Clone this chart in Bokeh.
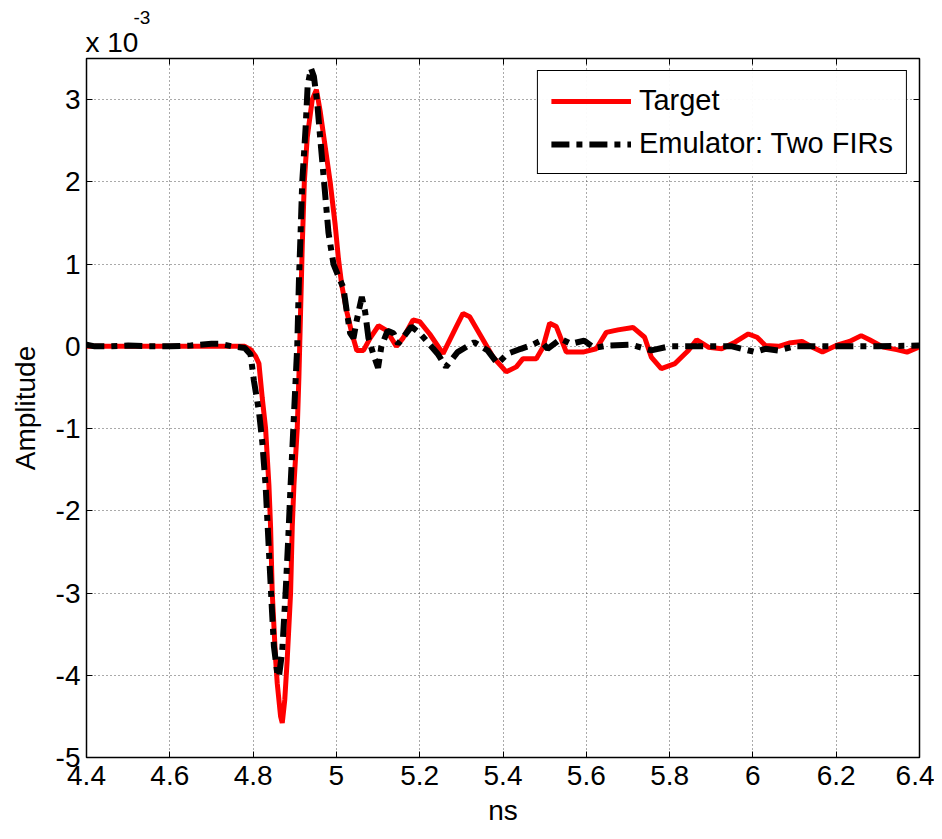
from bokeh.plotting import figure
from bokeh.models import Range1d, LinearAxis, FixedTicker, Legend, LegendItem, Title
from bokeh.embed import file_html
from bokeh.resources import INLINE

# Target (red) series, time in ns, amplitude in units of 1e-3
target_x = [4.40, 4.50, 4.60, 4.70, 4.78, 4.794, 4.806, 4.814, 4.822, 4.830, 4.838, 4.842, 4.846, 4.854,
            4.858, 4.866, 4.870, 4.876, 4.882, 4.890, 4.894, 4.898, 4.906, 4.910, 4.914, 4.918, 4.923,
            4.930, 4.942, 4.952, 4.961, 4.973, 4.985, 4.997, 5.005, 5.013, 5.025, 5.037, 5.049, 5.065,
            5.081, 5.101, 5.121, 5.144, 5.160, 5.184, 5.200, 5.224, 5.256, 5.288, 5.304, 5.320, 5.344,
            5.376, 5.408, 5.432, 5.448, 5.480, 5.496, 5.512, 5.528, 5.552, 5.592, 5.624, 5.648, 5.676,
            5.712, 5.740, 5.756, 5.780, 5.813, 5.845, 5.865, 5.893, 5.925, 5.957, 5.989, 6.010, 6.030,
            6.062, 6.087, 6.118, 6.143, 6.167, 6.200, 6.232, 6.260, 6.280, 6.313, 6.345, 6.370, 6.398]
target_y = [0, 0, 0, 0, 0, -0.04, -0.12, -0.21, -0.63, -1.0, -1.69, -2.2, -3.0, -3.8,
            -4.1, -4.5, -4.58, -4.3, -3.8, -3.0, -2.2, -1.69, -1.0, -0.37, 0.42, 1.22, 2.0,
            2.54, 3.0, 3.12, 2.86, 2.43, 2.0, 1.48, 1.06, 0.74, 0.42, 0.16, -0.05, -0.05,
            0.1, 0.25, 0.19, 0.0, 0.1, 0.32, 0.30, 0.15, -0.09, 0.24, 0.40, 0.36, 0.15,
            -0.13, -0.31, -0.25, -0.15, -0.15, -0.01, 0.28, 0.24, -0.07, -0.07, -0.03, 0.17, 0.2,
            0.23, 0.11, -0.13, -0.27, -0.21, -0.05, 0.08, -0.01, -0.03, 0.05, 0.15, 0.11, 0.01,
            0.0, 0.04, 0.06, -0.01, -0.07, 0.01, 0.06, 0.13, 0.08, -0.01, -0.04, -0.07, -0.01]

# Emulator (black dash-dot) series
emu_x = [4.40, 4.42, 4.45, 4.50, 4.55, 4.60, 4.65, 4.70, 4.72, 4.75, 4.78, 4.794, 4.802, 4.814, 4.822,
         4.830, 4.838, 4.846, 4.850, 4.858, 4.862, 4.870, 4.878, 4.884, 4.890, 4.896, 4.902, 4.906,
         4.910, 4.914, 4.918, 4.926, 4.931, 4.939, 4.946, 4.954, 4.961, 4.973, 4.981, 4.993, 5.005,
         5.017, 5.025, 5.033, 5.041, 5.049, 5.061, 5.069, 5.077, 5.089, 5.100, 5.108, 5.123, 5.137,
         5.148, 5.168, 5.180, 5.200, 5.216, 5.243, 5.263, 5.291, 5.331, 5.363, 5.387, 5.411, 5.443,
         5.467, 5.491, 5.507, 5.539, 5.563, 5.595, 5.619, 5.652, 5.708, 5.756, 5.80, 5.90, 5.95,
         6.005, 6.03, 6.06, 6.10, 6.20, 6.30, 6.40]
emu_y = [0.02, 0.0, 0.0, 0.01, 0.0, 0.0, 0.01, 0.03, 0.03, 0.0, -0.02, -0.1, -0.42, -0.79, -1.16,
         -1.69, -2.49, -3.28, -3.65, -3.97, -4.02, -3.7, -3.0, -2.38, -1.69, -1.06, -0.42, 0.0,
         0.79, 1.38, 2.0, 2.65, 3.17, 3.38, 3.28, 2.96, 2.54, 1.85, 1.38, 1.0, 0.85,
         0.71, 0.42, 0.16, 0.1, 0.32, 0.6, 0.42, 0.1, -0.1, -0.26, 0.0, 0.19, 0.16,
         0.03, 0.16, 0.24, 0.16, 0.07, -0.09, -0.25, -0.07, 0.05, -0.05, -0.21, -0.09, -0.03,
         0.01, 0.07, -0.03, 0.09, 0.03, 0.07, -0.02, 0.01, 0.02, -0.05, 0.0, 0.0, 0.0,
         -0.07, -0.03, -0.05, 0.0, 0.0, 0.0, 0.01]

x_ticks = [4.4, 4.6, 4.8, 5.0, 5.2, 5.4, 5.6, 5.8, 6.0, 6.2, 6.4]
x_tick_labels = ["4.4", "4.6", "4.8", "5", "5.2", "5.4", "5.6", "5.8", "6", "6.2", "6.4"]
y_ticks = [-5, -4, -3, -2, -1, 0, 1, 2, 3]
y_tick_labels = ["-5", "-4", "-3", "-2", "-1", "0", "1", "2", "3"]

FONT = "Liberation Sans"
FS = "28px"

p = figure(width=934, height=831, output_backend="svg", toolbar_location=None,
           x_range=Range1d(4.4, 6.4), y_range=Range1d(-5, 3.5),
           min_border_left=86, min_border_right=15, min_border_top=58, min_border_bottom=74)
p.background_fill_color = "white"
p.border_fill_color = "white"
p.outline_line_color = "black"
p.outline_line_width = 1.5

for ax in [p.xaxis[0], p.yaxis[0]]:
    ax.major_tick_in = 6
    ax.major_tick_out = 0
    ax.minor_tick_line_color = None
    ax.axis_line_color = "black"
    ax.major_tick_line_color = "black"
    ax.major_label_text_font = FONT
    ax.major_label_text_font_size = FS
    ax.major_label_text_color = "black"
    ax.axis_label_text_font = FONT
    ax.axis_label_text_font_size = FS
    ax.axis_label_text_font_style = "normal"
    ax.axis_label_text_color = "black"

p.xaxis[0].ticker = FixedTicker(ticks=x_ticks)
p.xaxis[0].major_label_overrides = {t: l for t, l in zip(x_ticks, x_tick_labels)}
p.yaxis[0].ticker = FixedTicker(ticks=y_ticks)
p.yaxis[0].major_label_overrides = {t: l for t, l in zip(y_ticks, y_tick_labels)}
p.xaxis[0].axis_label = "ns"
p.yaxis[0].axis_label = "Amplitude"
p.xaxis[0].major_label_standoff = 8
p.xaxis[0].axis_label_standoff = 7
p.yaxis[0].major_label_standoff = 6
p.yaxis[0].axis_label_standoff = 12

top = LinearAxis(ticker=FixedTicker(ticks=x_ticks), major_label_text_color=None,
                 major_tick_in=6, major_tick_out=0, minor_tick_line_color=None,
                 major_label_text_font_size="0px", major_label_standoff=0,
                 major_tick_line_color="black", axis_line_color="black")
right = LinearAxis(ticker=FixedTicker(ticks=y_ticks), major_label_text_color=None,
                   major_tick_in=6, major_tick_out=0, minor_tick_line_color=None,
                   major_label_text_font_size="0px", major_label_standoff=0,
                   major_tick_line_color="black", axis_line_color="black")
p.add_layout(top, "above")
p.add_layout(right, "right")

p.xgrid[0].ticker = FixedTicker(ticks=x_ticks)
p.ygrid[0].ticker = FixedTicker(ticks=y_ticks)
for g in [p.xgrid[0], p.ygrid[0]]:
    g.grid_line_color = "#555555"
    g.grid_line_dash = "1 3"
    g.grid_line_width = 1

r1 = p.line(target_x, target_y, line_color="#ff0000", line_width=5)
r2 = p.line(emu_x, emu_y, line_color="black", line_width=6, line_dash="18 7 6 7")

legend = Legend(items=[LegendItem(label="Target", renderers=[r1]),
                       LegendItem(label="Emulator: Two FIRs", renderers=[r2])],
                location="top_right")
legend.label_text_font = FONT
legend.label_text_font_size = "29px"
legend.label_text_color = "black"
legend.border_line_color = "black"
legend.border_line_width = 1.5
legend.border_line_alpha = 1
legend.glyph_width = 80
legend.glyph_height = 32
legend.spacing = 10
legend.padding = 13
legend.margin = 12
legend.label_standoff = 8
p.add_layout(legend)

p.add_layout(Title(text="x 10", align="left", text_font=FONT, text_font_size=FS,
                   text_font_style="normal", text_color="black", standoff=2, offset=-1), "above")
p.add_layout(Title(text="-3", align="left", text_font=FONT, text_font_size="19px",
                   text_font_style="normal", text_color="black", standoff=0, offset=47), "above")

open("out.html", "w").write(file_html(p, INLINE))
